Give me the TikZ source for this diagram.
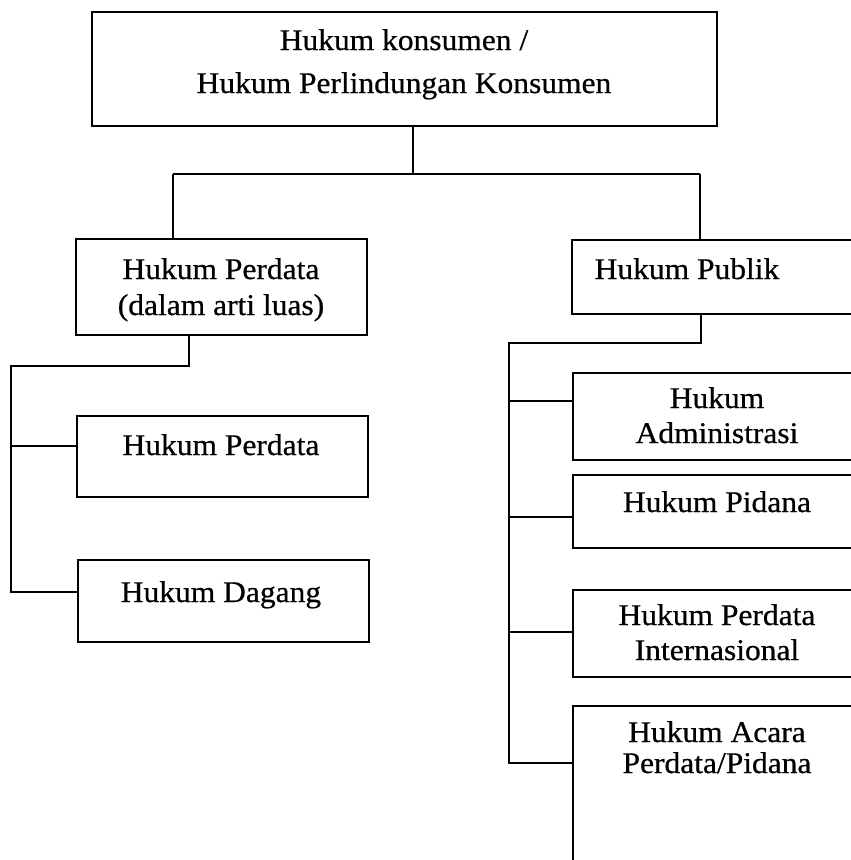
\documentclass[tikz,border=0pt]{standalone}
\usepackage{fontspec}
\setmainfont{Liberation Serif}[FakeStretch=1.05,FakeBold=0.6]
\begin{document}
\begin{tikzpicture}[x=1pt,y=-1pt,
  box/.style={draw, line width=2.4pt, inner sep=0pt, anchor=north west},
  txt/.style={font=\fontsize{30}{36}\selectfont, anchor=base, inner sep=0pt},
  conn/.style={line width=2.2pt}]
\clip (0,0) rectangle (851,860);
\useasboundingbox (0,0) rectangle (851,860);
% boxes
\node[box, minimum width=625pt, minimum height=114pt] (top) at (91,11) {};
\node[box, minimum width=291pt, minimum height=96pt] (luas) at (75,238) {};
\node[box, minimum width=300pt, minimum height=74pt] (publik) at (571,239) {};
\node[box, minimum width=291pt, minimum height=81pt] (perdata) at (76,415) {};
\node[box, minimum width=291pt, minimum height=82pt] (dagang) at (77,559) {};
\node[box, minimum width=300pt, minimum height=87pt] (admin) at (572,372) {};
\node[box, minimum width=300pt, minimum height=73pt] (pidana) at (572,474) {};
\node[box, minimum width=300pt, minimum height=87pt] (hpi) at (572,589) {};
\node[box, minimum width=300pt, minimum height=180pt] (acara) at (572,705) {};
% texts
\node[txt] (t1a) at (404,50) {Hukum konsumen /};
\node[txt] (t1b) at (404,93) {Hukum Perlindungan Konsumen};
\node[txt] (t2a) at (221,279) {Hukum Perdata};
\node[txt] (t2b) at (221,315) {(dalam arti luas)};
\node[txt] (t3) at (687,279) {Hukum Publik};
\node[txt] (t4) at (221,455) {Hukum Perdata};
\node[txt] (t5) at (221,602) {Hukum Dagang};
\node[txt] (t6a) at (717,408) {Hukum};
\node[txt] (t6b) at (717,443) {Administrasi};
\node[txt] (t7) at (717,512) {Hukum Pidana};
\node[txt] (t8a) at (717,625) {Hukum Perdata};
\node[txt] (t8b) at (717,660) {Internasional};
\node[txt] (t9a) at (717,742) {Hukum Acara};
\node[txt] (t9b) at (717,773) {Perdata/Pidana};
% connectors top level
\coordinate (j0) at (413,174);
\coordinate (jl) at (173,174);
\coordinate (jr) at (700,174);
\draw[conn] (j0 |- top.south) -- (j0);
\draw[conn] (jl) -- (jr);
\draw[conn] (jl) -- (jl |- luas.north);
\draw[conn] (jr) -- (jr |- publik.north);
% left subtree
\coordinate (l1) at (189,366);
\coordinate (l2) at (11,366);
\coordinate (lp) at (11,446);
\coordinate (ld) at (11,592);
\draw[conn] (l1 |- luas.south) -- (l1) -- (l2) -- (ld) -- (ld -| dagang.west);
\draw[conn] (lp) -- (lp -| perdata.west);
% right subtree
\coordinate (r1) at (701,343);
\coordinate (r2) at (509,343);
\coordinate (ra) at (509,401);
\coordinate (rp) at (509,517);
\coordinate (rh) at (509,632);
\coordinate (rc) at (509,763);
\draw[conn] (r1 |- publik.south) -- (r1) -- (r2) -- (rc) -- (rc -| acara.west);
\draw[conn] (ra) -- (ra -| admin.west);
\draw[conn] (rp) -- (rp -| pidana.west);
\draw[conn] (rh) -- (rh -| hpi.west);
\end{tikzpicture}
\end{document}
